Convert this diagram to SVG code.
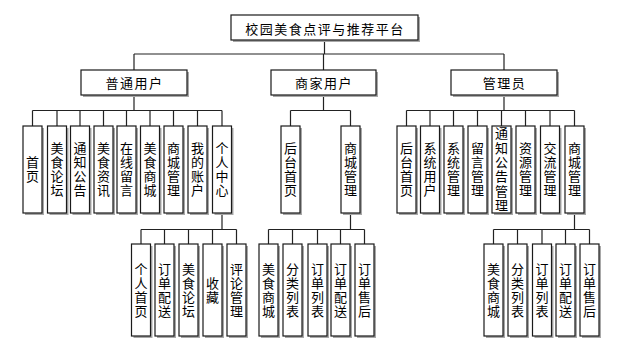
<svg xmlns="http://www.w3.org/2000/svg" width="619" height="352" viewBox="0 0 619 352">
<style>
.sh{fill:#a8a8a8}
.bx{fill:#fff;stroke:#1a1a1a;stroke-width:1.2}
.ln{stroke:#222;stroke-width:1.2;fill:none}
.t{font-family:"Noto Sans CJK SC","Liberation Sans",sans-serif;font-size:13px;fill:#000;text-anchor:middle;dominant-baseline:central}
.h{letter-spacing:1.5px}
.v{writing-mode:vertical-rl;letter-spacing:1px}
</style>
<rect width="619" height="352" fill="#fff"/>
<g id="connectors" class="ln">
<path d="M324.5 40V54M134 54H504M134 54V70M323.5 54V70M504 54V70"/>
<path d="M134 95V110.5M32.5 110.5H222M32.5 110.5V126M57 110.5V126M80 110.5V126M103.5 110.5V126M126.5 110.5V126M150 110.5V126M173.5 110.5V126M197.5 110.5V126M222 110.5V126"/>
<path d="M323.5 95V110.5M290.5 110.5H350.5M290.5 110.5V126M350.5 110.5V126"/>
<path d="M504 95V110.5M406.5 110.5H574.5M406.5 110.5V126M430 110.5V126M453.5 110.5V126M477.5 110.5V126M501.5 110.5V126M525.5 110.5V126M550 110.5V126M574.5 110.5V126"/>
<path d="M222 213V229.5M141 229.5H236.5M141 229.5V244M164.5 229.5V244M188.5 229.5V244M212.5 229.5V244M236.5 229.5V244"/>
<path d="M350.5 213V229.5M268.5 229.5H364.5M268.5 229.5V244M292.5 229.5V244M317.5 229.5V244M340.5 229.5V244M364.5 229.5V244"/>
<path d="M574.5 213V229.5M493.5 229.5H589.5M493.5 229.5V244M517.5 229.5V244M542 229.5V244M565.5 229.5V244M589.5 229.5V244"/>
</g>
<g id="root"><rect class="sh" x="233" y="17" width="187" height="25"/><rect class="bx" x="231" y="15" width="187" height="25"/><text class="t h" x="325" y="28">校园美食点评与推荐平台</text></g>
<g id="n-user"><rect class="sh" x="83" y="72" width="106" height="25"/><rect class="bx" x="81" y="70" width="106" height="25"/><text class="t h" x="134.5" y="82.5">普通用户</text></g>
<g id="n-merchant"><rect class="sh" x="273" y="72" width="105" height="25"/><rect class="bx" x="271" y="70" width="105" height="25"/><text class="t h" x="324" y="82.5">商家用户</text></g>
<g id="n-admin"><rect class="sh" x="453" y="72" width="106" height="25"/><rect class="bx" x="451" y="70" width="106" height="25"/><text class="t h" x="504.5" y="82.5">管理员</text></g>

<g id="u1"><rect class="sh" x="25" y="128" width="19" height="87"/><rect class="bx" x="23" y="126" width="19" height="87"/><text class="t v" x="32.5" y="170">首页</text></g>
<g id="u2"><rect class="sh" x="49.5" y="128" width="19" height="87"/><rect class="bx" x="47.5" y="126" width="19" height="87"/><text class="t v" x="57" y="170">美食论坛</text></g>
<g id="u3"><rect class="sh" x="72.5" y="128" width="19" height="87"/><rect class="bx" x="70.5" y="126" width="19" height="87"/><text class="t v" x="80" y="170">通知公告</text></g>
<g id="u4"><rect class="sh" x="96" y="128" width="19" height="87"/><rect class="bx" x="94" y="126" width="19" height="87"/><text class="t v" x="103.5" y="170">美食资讯</text></g>
<g id="u5"><rect class="sh" x="119" y="128" width="19" height="87"/><rect class="bx" x="117" y="126" width="19" height="87"/><text class="t v" x="126.5" y="170">在线留言</text></g>
<g id="u6"><rect class="sh" x="142.5" y="128" width="19" height="87"/><rect class="bx" x="140.5" y="126" width="19" height="87"/><text class="t v" x="150" y="170">美食商城</text></g>
<g id="u7"><rect class="sh" x="166" y="128" width="19" height="87"/><rect class="bx" x="164" y="126" width="19" height="87"/><text class="t v" x="173.5" y="170">商城管理</text></g>
<g id="u8"><rect class="sh" x="190" y="128" width="19" height="87"/><rect class="bx" x="188" y="126" width="19" height="87"/><text class="t v" x="197.5" y="170">我的账户</text></g>
<g id="u9"><rect class="sh" x="214.5" y="128" width="19" height="87"/><rect class="bx" x="212.5" y="126" width="19" height="87"/><text class="t v" x="222" y="170">个人中心</text></g>

<g id="m1"><rect class="sh" x="283" y="128" width="19" height="87"/><rect class="bx" x="281" y="126" width="19" height="87"/><text class="t v" x="290.5" y="170">后台首页</text></g>
<g id="m2"><rect class="sh" x="343" y="128" width="19" height="87"/><rect class="bx" x="341" y="126" width="19" height="87"/><text class="t v" x="350.5" y="170">商城管理</text></g>

<g id="a1"><rect class="sh" x="399" y="128" width="19" height="87"/><rect class="bx" x="397" y="126" width="19" height="87"/><text class="t v" x="406.5" y="170">后台首页</text></g>
<g id="a2"><rect class="sh" x="422.5" y="128" width="19" height="87"/><rect class="bx" x="420.5" y="126" width="19" height="87"/><text class="t v" x="430" y="170">系统用户</text></g>
<g id="a3"><rect class="sh" x="446" y="128" width="19" height="87"/><rect class="bx" x="444" y="126" width="19" height="87"/><text class="t v" x="453.5" y="170">系统管理</text></g>
<g id="a4"><rect class="sh" x="470" y="128" width="19" height="87"/><rect class="bx" x="468" y="126" width="19" height="87"/><text class="t v" x="477.5" y="170">留言管理</text></g>
<g id="a5"><rect class="sh" x="494" y="128" width="19" height="87"/><rect class="bx" x="492" y="126" width="19" height="87"/><text class="t v" x="501.5" y="170" style="letter-spacing:1.4px">通知公告管理</text></g>
<g id="a6"><rect class="sh" x="518" y="128" width="19" height="87"/><rect class="bx" x="516" y="126" width="19" height="87"/><text class="t v" x="525.5" y="170">资源管理</text></g>
<g id="a7"><rect class="sh" x="542.5" y="128" width="19" height="87"/><rect class="bx" x="540.5" y="126" width="19" height="87"/><text class="t v" x="550" y="170">交流管理</text></g>
<g id="a8"><rect class="sh" x="567" y="128" width="19" height="87"/><rect class="bx" x="565" y="126" width="19" height="87"/><text class="t v" x="574.5" y="170">商城管理</text></g>

<g id="p1"><rect class="sh" x="133.5" y="246" width="19" height="92"/><rect class="bx" x="131.5" y="244" width="19" height="92"/><text class="t v" x="141" y="290.5">个人首页</text></g>
<g id="p2"><rect class="sh" x="157" y="246" width="19" height="92"/><rect class="bx" x="155" y="244" width="19" height="92"/><text class="t v" x="164.5" y="290.5">订单配送</text></g>
<g id="p3"><rect class="sh" x="181" y="246" width="19" height="92"/><rect class="bx" x="179" y="244" width="19" height="92"/><text class="t v" x="188.5" y="290.5">美食论坛</text></g>
<g id="p4"><rect class="sh" x="205" y="246" width="19" height="92"/><rect class="bx" x="203" y="244" width="19" height="92"/><text class="t v" x="212.5" y="290.5">收藏</text></g>
<g id="p5"><rect class="sh" x="229" y="246" width="19" height="92"/><rect class="bx" x="227" y="244" width="19" height="92"/><text class="t v" x="236.5" y="290.5">评论管理</text></g>

<g id="ms1"><rect class="sh" x="261" y="246" width="19" height="92"/><rect class="bx" x="259" y="244" width="19" height="92"/><text class="t v" x="268.5" y="290.5">美食商城</text></g>
<g id="ms2"><rect class="sh" x="285" y="246" width="19" height="92"/><rect class="bx" x="283" y="244" width="19" height="92"/><text class="t v" x="292.5" y="290.5">分类列表</text></g>
<g id="ms3"><rect class="sh" x="310" y="246" width="19" height="92"/><rect class="bx" x="308" y="244" width="19" height="92"/><text class="t v" x="317.5" y="290.5">订单列表</text></g>
<g id="ms4"><rect class="sh" x="333" y="246" width="19" height="92"/><rect class="bx" x="331" y="244" width="19" height="92"/><text class="t v" x="340.5" y="290.5">订单配送</text></g>
<g id="ms5"><rect class="sh" x="357" y="246" width="19" height="92"/><rect class="bx" x="355" y="244" width="19" height="92"/><text class="t v" x="364.5" y="290.5">订单售后</text></g>

<g id="as1"><rect class="sh" x="486" y="246" width="19" height="92"/><rect class="bx" x="484" y="244" width="19" height="92"/><text class="t v" x="493.5" y="290.5">美食商城</text></g>
<g id="as2"><rect class="sh" x="510" y="246" width="19" height="92"/><rect class="bx" x="508" y="244" width="19" height="92"/><text class="t v" x="517.5" y="290.5">分类列表</text></g>
<g id="as3"><rect class="sh" x="534.5" y="246" width="19" height="92"/><rect class="bx" x="532.5" y="244" width="19" height="92"/><text class="t v" x="542" y="290.5">订单列表</text></g>
<g id="as4"><rect class="sh" x="558" y="246" width="19" height="92"/><rect class="bx" x="556" y="244" width="19" height="92"/><text class="t v" x="565.5" y="290.5">订单配送</text></g>
<g id="as5"><rect class="sh" x="582" y="246" width="19" height="92"/><rect class="bx" x="580" y="244" width="19" height="92"/><text class="t v" x="589.5" y="290.5">订单售后</text></g>
</svg>
